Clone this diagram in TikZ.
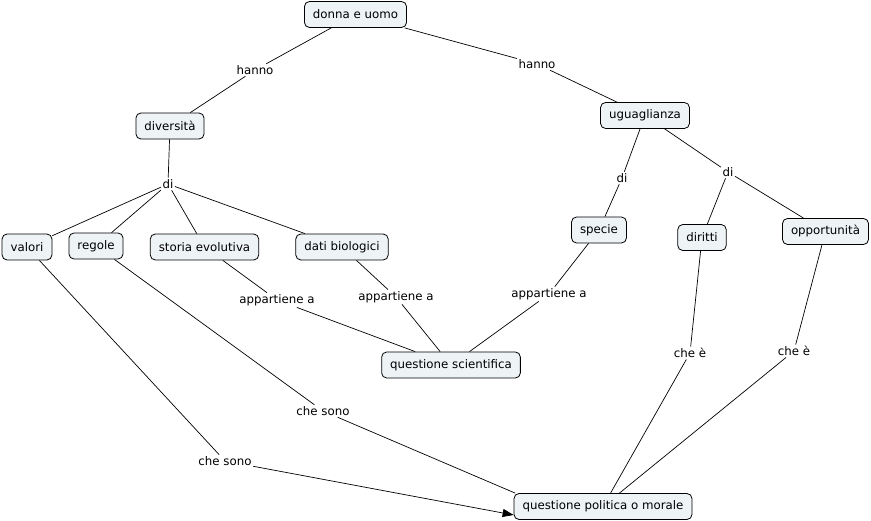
\documentclass[tikz,border=0pt]{standalone}
\usepackage{fontspec}
\setmainfont{DejaVu Sans}
\usetikzlibrary{arrows.meta}
\definecolor{cfill}{RGB}{238,243,246}
\tikzset{
  concept/.style={draw=black, line width=0.8pt, fill=cfill, rounded corners=5pt,
    inner xsep=8.5pt, inner ysep=0pt, minimum height=26pt,
    font=\fontsize{11.8}{14}\selectfont},
  lbl/.style={inner sep=1.5pt, font=\fontsize{11.8}{14}\selectfont},
  link/.style={draw=black, line width=0.7pt},
}
\begin{document}
\begin{tikzpicture}[x=1pt,y=-1pt]
\useasboundingbox (0,0) rectangle (871,521);
% concepts
\node[concept] (donna) at (355.5,14.5) {donna e uomo};
\node[concept] (div) at (170,126) {diversità};
\node[concept] (ugu) at (645,115.5) {uguaglianza};
\node[concept] (valori) at (27,247) {valori};
\node[concept] (regole) at (96,246) {regole};
\node[concept] (storia) at (204.5,247) {storia evolutiva};
\node[concept] (dati) at (342,247) {dati biologici};
\node[concept] (specie) at (599,230) {specie};
\node[concept] (diritti) at (702,237.5) {diritti};
\node[concept] (opp) at (825.5,231.5) {opportunità};
\node[concept] (qs) at (451,365) {questione scientifica};
\node[concept] (qpm) at (603,506.5) {questione politica o morale};
% labels
\node[lbl] (h1) at (255,70) {hanno};
\node[lbl] (h2) at (537,64) {hanno};
\node[lbl] (di1) at (168,184) {di};
\node[lbl] (di2) at (622,178) {di};
\node[lbl] (di3) at (728,172) {di};
\node[lbl] (a1) at (277,300) {appartiene a};
\node[lbl] (a2) at (396,297) {appartiene a};
\node[lbl] (a3) at (549,294) {appartiene a};
\node[lbl] (ce1) at (690,353) {che è};
\node[lbl] (ce2) at (794,351) {che è};
\node[lbl] (cs1) at (323,411) {che sono};
\node[lbl] (cs2) at (225,461) {che sono};
% connectors
\draw[link] (donna) -- (h1);
\draw[link] (h1) -- (div);
\draw[link] (donna) -- (h2);
\draw[link] (h2) -- (ugu);
\draw[link] (div) -- (di1);
\draw[link] (di1) -- (valori);
\draw[link] (di1) -- (regole);
\draw[link] (di1) -- (storia);
\draw[link] (di1) -- (dati);
\draw[link] (ugu) -- (di2);
\draw[link] (di2) -- (specie);
\draw[link] (ugu) -- (di3);
\draw[link] (di3) -- (diritti);
\draw[link] (di3) -- (opp);
\draw[link] (storia) -- (a1);
\draw[link] (a1) -- (qs);
\draw[link] (dati) -- (a2);
\draw[link] (a2) -- (qs);
\draw[link] (specie) -- (a3);
\draw[link] (a3) -- (qs);
\draw[link] (diritti) -- (ce1);
\draw[link] (ce1) -- (qpm);
\draw[link] (opp) -- (ce2);
\draw[link] (ce2) -- (qpm);
\draw[link] (regole) -- (cs1);
\draw[link] (cs1) -- ([xshift=1.5pt]qpm.north west);
\draw[link] (valori) -- (cs2);
\draw[link, -{Triangle[length=11pt,width=8pt]}] (cs2) -- ([yshift=-8.5pt]qpm.west);
\end{tikzpicture}
\end{document}
